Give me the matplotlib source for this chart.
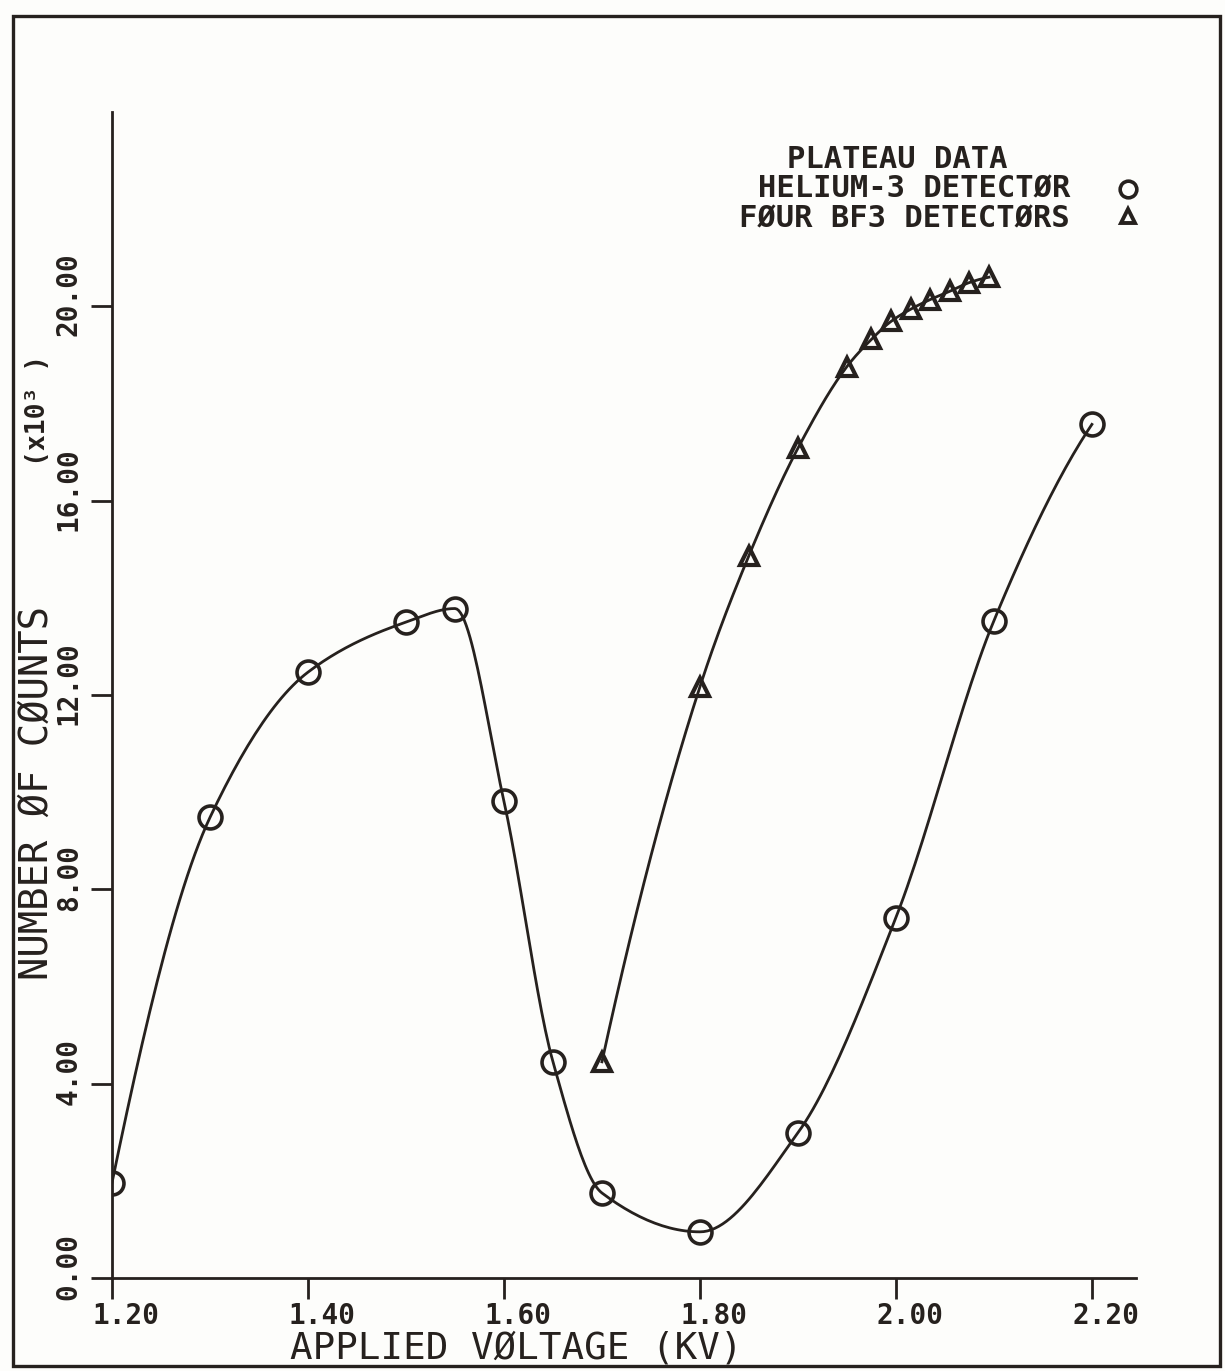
import matplotlib
matplotlib.use("Agg")
import matplotlib.pyplot as plt
import matplotlib.transforms as mtransforms
from matplotlib.patches import Rectangle
import numpy as np

# Helium-3 detector data (kV, counts x10^3)
he3_kv = [1.20, 1.30, 1.40, 1.50, 1.55, 1.60, 1.65, 1.70, 1.80, 1.90, 2.00, 2.10, 2.20]
he3_counts = [1.96, 9.48, 12.47, 13.50, 13.78, 9.81, 4.45, 1.75, 0.95, 2.99, 7.42, 13.53, 17.57]

# Four BF3 detectors
bf3_kv = [1.70, 1.80, 1.85, 1.90, 1.95, 1.975, 1.995, 2.015, 2.035, 2.055, 2.075, 2.095]
bf3_counts = [4.45, 12.17, 14.87, 17.08, 18.76, 19.32, 19.69, 19.94, 20.14, 20.31, 20.49, 20.60]

x_ticks = [1.20, 1.40, 1.60, 1.80, 2.00, 2.20]
y_ticks = [0, 4, 8, 12, 16, 20]

INK = '#26211e'
FONT = 'DejaVu Sans Mono'
W, H = 1225, 1371


def pchip(x, y, n=300):
    '''smooth monotone cubic through the points (drawing only)'''
    x = np.asarray(x, float)
    y = np.asarray(y, float)
    h = np.diff(x)
    d = np.diff(y) / h
    m = np.zeros_like(y)
    for k in range(1, len(x) - 1):
        if d[k - 1] * d[k] > 0:
            w1 = 2 * h[k] + h[k - 1]
            w2 = h[k] + 2 * h[k - 1]
            m[k] = (w1 + w2) / (w1 / d[k - 1] + w2 / d[k])
    m[0] = ((2 * h[0] + h[1]) * d[0] - h[0] * d[1]) / (h[0] + h[1])
    if np.sign(m[0]) != np.sign(d[0]):
        m[0] = 0
    m[-1] = ((2 * h[-1] + h[-2]) * d[-1] - h[-1] * d[-2]) / (h[-1] + h[-2])
    if np.sign(m[-1]) != np.sign(d[-1]):
        m[-1] = 0
    xs, ys = [], []
    for k in range(len(x) - 1):
        t = np.linspace(0, 1, n // (len(x) - 1) + 2)
        h00 = 2 * t**3 - 3 * t**2 + 1
        h10 = t**3 - 2 * t**2 + t
        h01 = -2 * t**3 + 3 * t**2
        h11 = t**3 - t**2
        xs.append(x[k] + t * h[k])
        ys.append(h00 * y[k] + h10 * h[k] * m[k] + h01 * y[k + 1] + h11 * h[k] * m[k + 1])
    return np.concatenate(xs), np.concatenate(ys)


fig = plt.figure(figsize=(W / 100, H / 100), dpi=100)
fig.patch.set_facecolor('#fdfdfb')

# outer frame of the scanned page
fig.patches.append(Rectangle((13 / W, 1 - 1366 / H), (1220 - 13) / W, (1366 - 16) / H,
                             transform=fig.transFigure, fill=False, edgecolor=INK, linewidth=2.4))

ax = fig.add_axes([112 / W, 1 - 1278 / H, (1136 - 112) / W, (1278 - 112) / H])
ax.set_facecolor('none')
ax.set_xlim(1.20, 2.245)
ax.set_ylim(0, 24)

for s in ['top', 'right']:
    ax.spines[s].set_visible(False)
for s in ['left', 'bottom']:
    ax.spines[s].set_color(INK)
    ax.spines[s].set_linewidth(2.0)

# curves
sx, sy = pchip(he3_kv, he3_counts)
ax.plot(sx, sy, color=INK, linewidth=2.0)
ax.plot(he3_kv, he3_counts, linestyle='none', marker='o', markersize=16.5,
        markerfacecolor='none', markeredgecolor=INK, markeredgewidth=2.6)

tx, ty = pchip(bf3_kv, bf3_counts)
ax.plot(tx, ty, color=INK, linewidth=2.0)
ax.plot(bf3_kv, bf3_counts, linestyle='none', marker='^', markersize=13,
        markerfacecolor='none', markeredgecolor=INK, markeredgewidth=3.0)

# ticks
ax.set_xticks(x_ticks)
ax.set_xticklabels(['%.2f' % v for v in x_ticks], fontsize=20, family=FONT,
                   weight='bold', color=INK)
ax.set_yticks(y_ticks)
ax.set_yticklabels(['%.2f' % v for v in y_ticks], fontsize=20, family=FONT,
                   weight='bold', color=INK, rotation=90, va='center')
ax.tick_params(axis='x', direction='out', length=15, width=2.0, color=INK, pad=2)
ax.tick_params(axis='y', direction='out', length=15, width=2.0, color=INK, pad=6)

# plotter labels sit a little along the reading direction
for lab in ax.get_xticklabels():
    lab.set_transform(lab.get_transform() + mtransforms.ScaledTranslation(0.14, 0, fig.dpi_scale_trans))
for lab in ax.get_yticklabels():
    lab.set_transform(lab.get_transform() + mtransforms.ScaledTranslation(0, 0.12, fig.dpi_scale_trans))

# axis titles
fig.text(516 / W, 1 - 1349 / H, 'APPLIED VØLTAGE (KV)', fontsize=27, family=FONT,
         color=INK, ha='center', va='center')
fig.text(37 / W, 1 - 793 / H, 'NUMBER ØF CØUNTS', fontsize=28, family=FONT,
         color=INK, ha='center', va='center', rotation=90)
fig.text(38 / W, 1 - 410 / H, '(x10³ )', fontsize=19, family=FONT, weight='bold',
         color=INK, ha='center', va='center', rotation=90)

# legend block
fig.text(897 / W, 1 - 159 / H, 'PLATEAU DATA', fontsize=22, family=FONT, weight='bold',
         color=INK, ha='center', va='center')
fig.text(1070 / W, 1 - 189 / H, 'HELIUM-3 DETECTØR', fontsize=22, family=FONT, weight='bold',
         color=INK, ha='right', va='center')
fig.text(1070 / W, 1 - 219 / H, 'FØUR BF3 DETECTØRS', fontsize=22, family=FONT, weight='bold',
         color=INK, ha='right', va='center')
fig.lines.append(plt.Line2D([1128 / W], [1 - 189 / H], transform=fig.transFigure,
                            marker='o', markersize=12, markerfacecolor='none',
                            markeredgecolor=INK, markeredgewidth=2.6))
fig.lines.append(plt.Line2D([1128 / W], [1 - 216 / H], transform=fig.transFigure,
                            marker='^', markersize=10, markerfacecolor='none',
                            markeredgecolor=INK, markeredgewidth=2.8))

fig.savefig('out.png', dpi=100, facecolor=fig.get_facecolor())
